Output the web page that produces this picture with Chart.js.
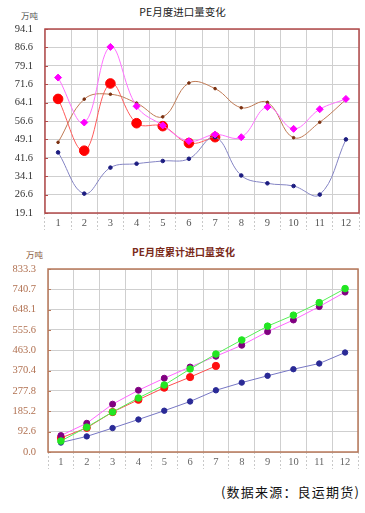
<!DOCTYPE html>
<html>
<head>
<meta charset="utf-8">
<script src="https://cdn.jsdelivr.net/npm/chart.js@4.4.1/dist/chart.umd.min.js"></script>
<style>
  html, body { margin: 0; padding: 0; background: #ffffff; }
  body { width: 365px; height: 513px; position: relative; overflow: hidden; font-family: "Noto Sans CJK SC", "Noto Sans", sans-serif; }
  .abs { position: absolute; white-space: nowrap; }
  #c1 { position: absolute; left: 0; top: 0; }
  #c2 { position: absolute; left: 0; top: 240px; }
  #t1 { left: 0; width: 365px; text-align: center; top: 4px; font-size: 10.5px; color: #222; }
  #u1 { left: 21px; top: 9px; font-size: 8.5px; color: #555; }
  #t2 { left: 0; width: 367px; text-align: center; top: 244px; font-size: 10px; font-weight: bold; color: #7a2a1a; font-family: "Noto Sans CJK SC", serif; }
  #u2 { left: 26px; top: 248px; font-size: 8.5px; color: #8a5a40; }
  #src { left: 221px; top: 482px; font-size: 13px; letter-spacing: 1.2px; color: #111; }
</style>
</head>
<body>
<div class="abs" id="t1">PE月度进口量变化</div>
<div class="abs" id="u1">万吨</div>
<canvas id="c1" width="365" height="235"></canvas>
<div class="abs" id="t2">PE月度累计进口量变化</div>
<div class="abs" id="u2">万吨</div>
<canvas id="c2" width="365" height="234"></canvas>
<div class="abs" id="src">(数据来源：良运期货)</div>
<script>
// ---------- data ----------
const months = ['1','2','3','4','5','6','7','8','9','10','11','12'];

// monthly imports (万吨)
const monthlyBlue    = [43.8, 27.0, 37.6, 39.2, 40.3, 41.2, 50.0, 34.4, 31.2, 30.1, 26.6, 49.1];
const monthlyBrown   = [47.9, 65.5, 67.5, 63.9, 58.3, 72.1, 69.8, 62.0, 64.2, 49.8, 56.1, 65.3];
const monthlyMagenta = [74.3, 56.0, 86.8, 62.6, 54.8, 48.4, 51.1, 50.0, 62.3, 53.4, 61.4, 65.6];
const monthlyRed     = [65.6, 44.5, 71.9, 55.7, 54.5, 47.6, 50.0];

// cumulative imports (万吨)
const cumBlue   = [43, 71, 109, 148, 188, 230, 281, 316, 347, 377, 403, 453];
const cumGreen  = [50, 113, 182, 246, 305, 378, 446, 510, 573, 623, 680, 744];
const cumPurple = [75, 131, 218, 281, 336, 387, 436, 486, 548, 601, 662, 728];
const cumRed    = [64, 110, 182, 238, 293, 341, 392];

// tick labels
const monthlyTicks = [19.1, 26.6, 34.1, 41.6, 49.1, 56.6, 64.1, 71.6, 79.1, 86.6, 94.1];
const cumTicks = [0.0, 92.6, 185.2, 277.8, 370.4, 463.0, 555.6, 648.1, 740.7, 833.3];

// ---------- helpers ----------
function framePlugin(color, width) {
  return {
    id: 'frame',
    beforeDatasetsDraw(chart) {
      const a = chart.chartArea, ctx = chart.ctx;
      ctx.save();
      ctx.strokeStyle = color;
      ctx.lineWidth = width;
      ctx.setLineDash([]);
      ctx.strokeRect(a.left, a.top, a.right - a.left, a.bottom - a.top);
      const ys = chart.scales.y;
      ctx.lineWidth = 1;
      ys.ticks.forEach(t => {
        const py = Math.round(ys.getPixelForValue(t.value)) + 0.5;
        ctx.beginPath();
        ctx.moveTo(a.left, py);
        ctx.lineTo(a.left + 3, py);
        ctx.stroke();
      });
      ctx.restore();
    }
  };
}

function baseOptions(ticks, yWidth, padRight, yColor, xColor) {
  return {
    responsive: false,
    animation: false,
    devicePixelRatio: 1,
    layout: { padding: { top: 29, right: padRight, left: 0, bottom: 0 } },
    plugins: { legend: { display: false }, tooltip: { enabled: false } },
    scales: {
      x: {
        type: 'category',
        offset: true,
        grid: {
          offset: true,
          color: '#cfcfcf',
          borderDash: [2, 2],
          tickLength: 17,
          tickColor: '#c8c8c8',
          tickBorderDash: [2, 2],
          drawTicks: true
        },
        border: { display: false },
        ticks: {
          color: xColor,
          padding: -13,
          font: { family: 'Liberation Serif', size: 10.5 },
          maxRotation: 0,
          autoSkip: false
        },
        afterFit(s) { s.height = 22; }
      },
      y: {
        min: ticks[0],
        max: ticks[ticks.length - 1],
        afterBuildTicks(s) { s.ticks = ticks.map(v => ({ value: v })); },
        grid: {
          color: '#cfcfcf',
          borderDash: [2, 2],
          drawTicks: false
        },
        border: { display: false },
        ticks: {
          color: yColor,
          padding: 12,
          font: { family: 'Liberation Serif', size: 10.5 },
          callback: v => Number(v).toFixed(1)
        },
        afterFit(s) { s.width = yWidth; }
      }
    }
  };
}

// ---------- top chart: monthly ----------
new Chart(document.getElementById('c1'), {
  type: 'line',
  data: {
    labels: months,
    datasets: [
      {
        data: monthlyRed, borderColor: '#ff5a5a', borderWidth: 1,
        pointBackgroundColor: '#ff0000', pointBorderColor: '#ff0000',
        pointRadius: 4.8, tension: 0.4, order: 5, fill: false
      },
      {
        data: monthlyBlue, borderColor: '#8484c4', borderWidth: 1,
        pointBackgroundColor: '#1c1c80', pointBorderColor: '#1c1c80',
        pointRadius: 1.8, tension: 0.4, order: 4, fill: false
      },
      {
        data: monthlyBrown, borderColor: '#bf7a55', borderWidth: 1,
        pointBackgroundColor: '#7a3010', pointBorderColor: '#7a3010',
        pointRadius: 1.3, tension: 0.4, order: 3, fill: false
      },
      {
        data: monthlyMagenta, borderColor: '#ff70ff', borderWidth: 1,
        pointBackgroundColor: '#ff00ff', pointBorderColor: '#ff00ff',
        pointStyle: 'rectRot', pointRadius: 3.5, tension: 0.4, order: 2, fill: false
      }
    ]
  },
  options: baseOptions(monthlyTicks, 45, 6, '#333333', '#555555'),
  plugins: [framePlugin('#b24a4a', 1.5)]
});

// ---------- bottom chart: cumulative ----------
new Chart(document.getElementById('c2'), {
  type: 'line',
  data: {
    labels: months,
    datasets: [
      {
        data: cumBlue, borderColor: '#7676c4', borderWidth: 1,
        pointBackgroundColor: '#2a2a96', pointBorderColor: '#2a2a96',
        pointRadius: 2.7, tension: 0, order: 5, fill: false
      },
      {
        data: cumRed, borderColor: '#ff4d4d', borderWidth: 1,
        pointBackgroundColor: '#ff1010', pointBorderColor: '#ff1010',
        pointRadius: 3.6, tension: 0, order: 4, fill: false
      },
      {
        data: cumPurple, borderColor: '#ff66ff', borderWidth: 1,
        pointBackgroundColor: '#800080', pointBorderColor: '#800080',
        pointRadius: 3, tension: 0, order: 3, fill: false
      },
      {
        data: cumGreen, borderColor: '#55f055', borderWidth: 1,
        pointBackgroundColor: '#22e622', pointBorderColor: '#22e622',
        pointRadius: 3.3, tension: 0, order: 2, fill: false
      }
    ]
  },
  options: baseOptions(cumTicks, 48, 7, '#b07050', '#666666'),
  plugins: [framePlugin('#b8785a', 1.5)]
});
</script>
</body>
</html>
